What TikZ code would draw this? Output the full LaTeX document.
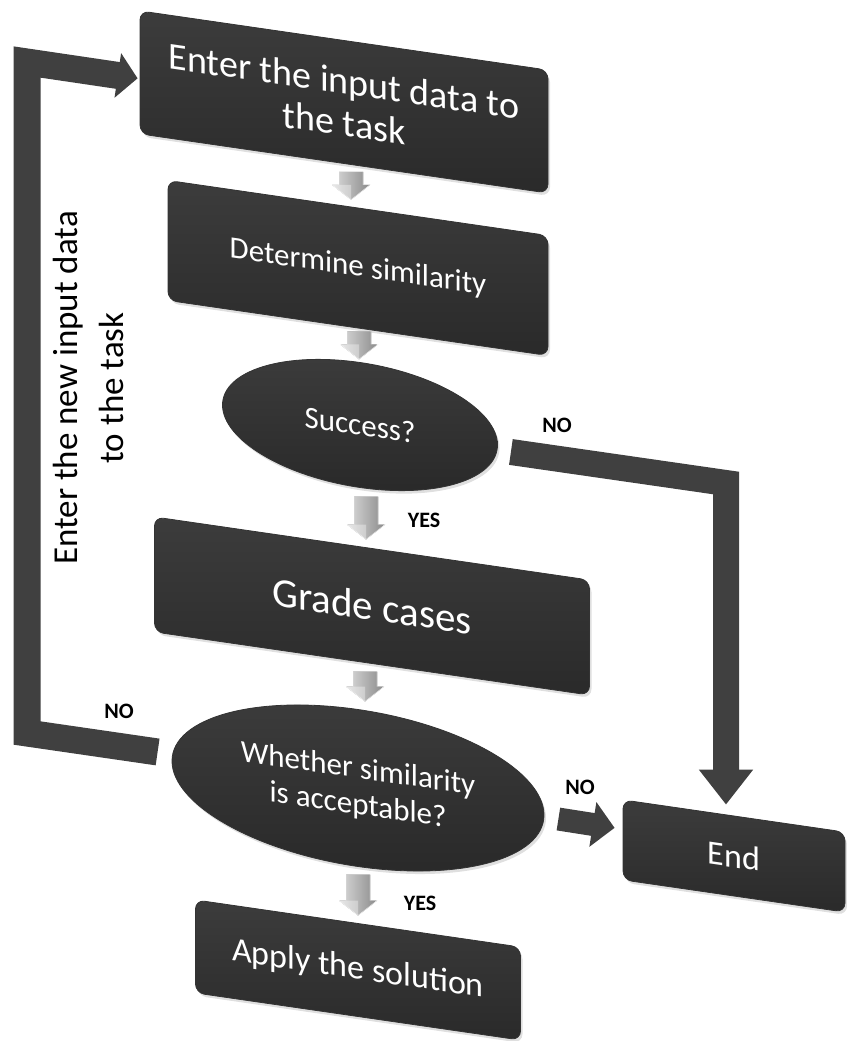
\documentclass[tikz,border=0pt]{standalone}
\usepackage{fontspec}
\setmainfont{Carlito}
\usetikzlibrary{shapes.geometric,arrows.meta,shadows,calc}
\definecolor{boxdark}{HTML}{2A2A2A}
\definecolor{boxlight}{HTML}{3C3C3C}
\definecolor{band}{HTML}{404040}
\definecolor{arrowlight}{HTML}{DCDCDC}
\definecolor{arrowdark}{HTML}{8A8A8A}
\begin{document}
\begin{tikzpicture}[x=1pt,y=-1pt,
  shapebase/.style={top color=boxlight, bottom color=boxdark, draw=black!80, line width=0.8pt,
    text=white, align=center, inner sep=0pt, yslant=-0.145,
    drop shadow={opacity=0.25, shadow xshift=2pt, shadow yshift=-3pt}},
  box/.style={shapebase, rectangle, rounded corners=9pt},
  dec/.style={shapebase, ellipse},
  big/.style={draw=band, line cap=butt, line join=miter},
  lab/.style={font=\bfseries\fontsize{22}{26}\selectfont, text=black},
  pics/garrow/.style={code={
    \fill[left color=arrowlight, right color=arrowdark, draw=white, line width=0.4pt]
      (-12,-#1/2) -- (12,-#1/2) -- (12,#1/2-15) -- (19,#1/2-15) -- (0,#1/2)
      -- (-19,#1/2-15) -- (-12,#1/2-15) -- cycle;
    \fill[white, opacity=0.35] (-19,#1/2-15) -- (0,#1/2-15) -- (0,#1/2) -- cycle;}}
]
\useasboundingbox (0,0) rectangle (846,1041);

% nodes
\node[box, minimum width=408pt, minimum height=123pt, font=\fontsize{38}{42}\selectfont]
  (b1) at (344,102) {Enter the input data to\\the task};
\node[box, minimum width=380pt, minimum height=120pt, font=\fontsize{31}{36}\selectfont]
  (b2) at (358,268) {Determine similarity};
\node[dec, minimum width=275pt, minimum height=125pt, font=\fontsize{31}{36}\selectfont]
  (e1) at (360,425) {Success?};
\node[box, minimum width=435pt, minimum height=115pt, font=\fontsize{41}{48}\selectfont]
  (b3) at (372,606) {Grade cases};
\node[dec, minimum width=372pt, minimum height=157pt, font=\fontsize{31}{36}\selectfont]
  (e2) at (358,788) {Whether similarity\\is acceptable?};
\node[box, minimum width=222pt, minimum height=80pt, font=\fontsize{34}{40}\selectfont]
  (end) at (734,856) {End};
\node[box, minimum width=325pt, minimum height=93pt, font=\fontsize{34}{40}\selectfont]
  (apply) at (358,970) {Apply the solution};

\node[rotate=90, align=center, font=\fontsize{35}{46}\selectfont] (side) at (88,388)
  {Enter the new input data\\to the task};

% small gray arrows
\pic at ($(b1.south)!0.5!(b2.north)$) {garrow=28};
\pic at ($(b2.south)!0.5!(e1.north)$) {garrow=28};
\pic at ($(e1.south)!0.5!(b3.north)$) {garrow=43};
\pic at ($(b3.south)!0.5!(e2.north)$) {garrow=30};
\pic at ($(e2.south)!0.5!(apply.north)$) {garrow=41};

% big arrows
\coordinate (n1) at (726,483);
\coordinate (n1b) at ($(n1 |- end.north)+(0,-11)$);
\draw[big, line width=26pt, -{Triangle[width=52pt,length=35pt]}]
  ($(e1.east)+(13,7)$) -- (n1) -- (n1b);

\coordinate (l1) at (27,733);
\coordinate (l2) at (27,62);
\draw[big, line width=27pt, -{Triangle[width=44pt,length=20pt]}]
  ($(e2.west)+(-14,-9)$) -- (l1) -- (l2) -- ($(b1.west)+(-2,6)$);

\draw[big, line width=23pt, -{Triangle[width=44pt,length=22pt]}]
  ($(e2.east)+(14,4)$) -- ($(end.west)+(-8,-12)$);

% labels
\node[lab] (yes1) at (424,520) {YES};
\node[lab] (yes2) at (420,903) {YES};
\node[lab] (no1) at (557,425) {NO};
\node[lab] (no2) at (580,787) {NO};
\node[lab] (no3) at (119,711) {NO};
\end{tikzpicture}
\end{document}
